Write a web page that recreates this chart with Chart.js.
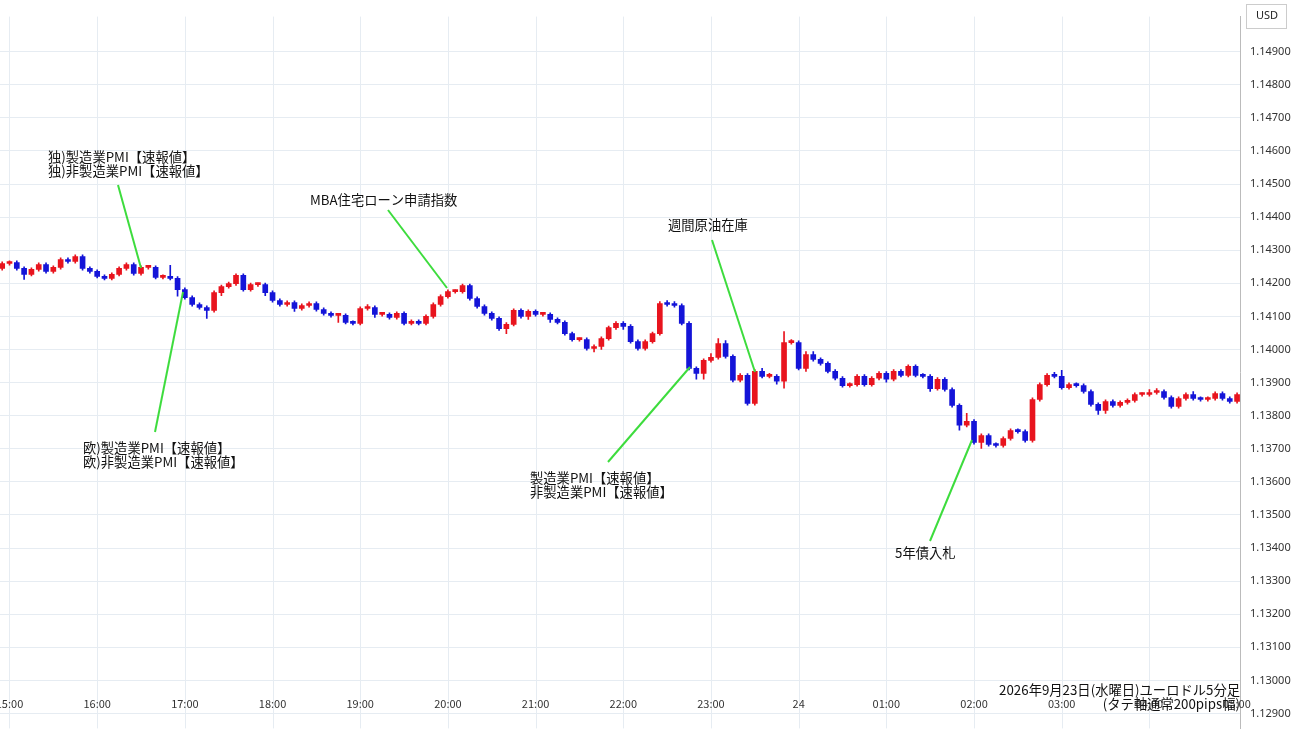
<!DOCTYPE html>
<html>
<head>
<meta charset="utf-8">
<script src="https://cdn.jsdelivr.net/npm/chart.js@4.4.1/dist/chart.umd.min.js"></script>
<style>
  html, body { margin: 0; padding: 0; background: #fff; }
  #wrap { width: 1300px; height: 745px; }
</style>
</head>
<body>
<div id="wrap"><canvas id="fx"></canvas></div>
<script>
// EUR/USD 5-minute closes, first bar 14:55, last bar 05:00
let closes = [
  1.14260, 1.14263, 1.14245, 1.14227, 1.14242, 1.14257, 1.14236, 1.14248, 1.14272, 1.14266,
  1.14281, 1.14245, 1.14236, 1.14221, 1.14215, 1.14227, 1.14245, 1.14257, 1.14230, 1.14248,
  1.14248, 1.14218, 1.14221, 1.14215, 1.14181, 1.14157, 1.14136, 1.14127, 1.14118, 1.14172,
  1.14190, 1.14199, 1.14224, 1.14181, 1.14196, 1.14196, 1.14172, 1.14148, 1.14136, 1.14142,
  1.14124, 1.14133, 1.14139, 1.14121, 1.14109, 1.14103, 1.14103, 1.14082, 1.14079, 1.14124,
  1.14127, 1.14106, 1.14106, 1.14097, 1.14109, 1.14079, 1.14085, 1.14079, 1.14100, 1.14136,
  1.14160, 1.14175, 1.14175, 1.14193, 1.14154, 1.14130, 1.14109, 1.14094, 1.14063, 1.14076,
  1.14118, 1.14100, 1.14115, 1.14106, 1.14106, 1.14091, 1.14082, 1.14048, 1.14030, 1.14030,
  1.14003, 1.14009, 1.14033, 1.14066, 1.14079, 1.14070, 1.14024, 1.14003, 1.14024, 1.14048,
  1.14139, 1.14136, 1.14133, 1.14079, 1.13943, 1.13928, 1.13967, 1.13976, 1.14018, 1.13979,
  1.13907, 1.13922, 1.13837, 1.13934, 1.13919, 1.13919, 1.13904, 1.14021, 1.14021, 1.13943,
  1.13985, 1.13970, 1.13958, 1.13934, 1.13913, 1.13891, 1.13894, 1.13919, 1.13894, 1.13913,
  1.13928, 1.13910, 1.13934, 1.13922, 1.13949, 1.13922, 1.13919, 1.13882, 1.13910, 1.13879,
  1.13831, 1.13771, 1.13783, 1.13719, 1.13740, 1.13713, 1.13710, 1.13731, 1.13755, 1.13752,
  1.13725, 1.13849, 1.13894, 1.13922, 1.13919, 1.13885, 1.13894, 1.13891, 1.13873, 1.13834,
  1.13816, 1.13843, 1.13831, 1.13840, 1.13846, 1.13864, 1.13864, 1.13870, 1.13873, 1.13855,
  1.13828, 1.13852, 1.13864, 1.13852, 1.13849, 1.13852, 1.13867, 1.13852, 1.13843, 1.13864
];
let firstOpen = 1.14245;

// wick lengths beyond the body, in 0.00001
let wickHi = [
  5, 5, 5, 5, 5, 5, 5, 5, 5, 5,
  5, 5, 5, 5, 5, 5, 5, 5, 5, 5,
  5, 5, 5, 33, 5, 5, 5, 5, 5, 5,
  5, 5, 5, 5, 5, 5, 5, 5, 5, 5,
  5, 5, 5, 5, 5, 5, 5, 5, 5, 5,
  9, 5, 5, 5, 5, 5, 5, 5, 5, 5,
  5, 5, 5, 5, 5, 5, 5, 5, 5, 5,
  5, 5, 5, 5, 5, 5, 5, 5, 5, 5,
  5, 5, 5, 5, 5, 5, 5, 5, 5, 5,
  6, 9, 9, 5, 5, 5, 5, 12, 15, 9,
  5, 5, 5, 5, 9, 9, 5, 33, 9, 5,
  9, 9, 5, 5, 5, 5, 5, 5, 5, 5,
  5, 5, 5, 5, 5, 5, 5, 5, 5, 5,
  5, 5, 24, 5, 5, 5, 5, 5, 5, 5,
  5, 5, 5, 5, 9, 18, 5, 5, 5, 5,
  5, 5, 5, 5, 5, 5, 5, 9, 9, 5,
  5, 5, 5, 9, 5, 5, 5, 5, 5, 5
];
let wickLo = [
  5, 5, 5, 15, 5, 5, 5, 5, 5, 5,
  5, 5, 5, 5, 5, 5, 5, 5, 5, 5,
  5, 5, 5, 5, 20, 5, 5, 5, 24, 5,
  9, 5, 5, 5, 5, 5, 9, 5, 5, 5,
  9, 5, 5, 5, 5, 5, 21, 5, 5, 5,
  5, 9, 5, 5, 5, 5, 5, 5, 5, 5,
  5, 5, 5, 5, 5, 5, 5, 5, 5, 15,
  5, 5, 9, 5, 5, 9, 5, 5, 5, 5,
  5, 10, 9, 5, 5, 9, 5, 5, 5, 5,
  5, 5, 5, 5, 5, 18, 18, 5, 5, 5,
  5, 5, 5, 5, 5, 5, 9, 21, 5, 5,
  9, 5, 5, 5, 5, 5, 5, 5, 5, 5,
  5, 9, 5, 5, 5, 5, 5, 9, 5, 5,
  5, 15, 5, 5, 18, 5, 5, 5, 5, 5,
  5, 5, 5, 5, 5, 5, 5, 5, 5, 5,
  12, 9, 5, 5, 5, 5, 5, 5, 5, 5,
  5, 5, 5, 5, 5, 5, 5, 5, 5, 5
];

let hourLabels = ['15:00','16:00','17:00','18:00','19:00','20:00','21:00','22:00','23:00','24','01:00','02:00','03:00','04:00','05:00'];
let priceTicks = [1.129,1.130,1.131,1.132,1.133,1.134,1.135,1.136,1.137,1.138,1.139,1.140,1.141,1.142,1.143,1.144,1.145,1.146,1.147,1.148,1.149];

let notes = [
  { x: 48,  y: 157, align: 'left', lines: ['独)製造業PMI【速報値】', '独)非製造業PMI【速報値】'], from: [118, 185], to: [141, 268] },
  { x: 310, y: 200, align: 'left', lines: ['MBA住宅ローン申請指数'], from: [388, 210], to: [447, 288] },
  { x: 668, y: 225, align: 'left', lines: ['週間原油在庫'], from: [712, 240], to: [755, 372] },
  { x: 83,  y: 448, align: 'left', lines: ['欧)製造業PMI【速報値】', '欧)非製造業PMI【速報値】'], from: [155, 432], to: [183, 292] },
  { x: 530, y: 478, align: 'left', lines: ['製造業PMI【速報値】', '非製造業PMI【速報値】'], from: [608, 462], to: [690, 367] },
  { x: 895, y: 553, align: 'left', lines: ['5年債入札'], from: [930, 541], to: [972, 440] },
  { x: 1240, y: 690, align: 'right', lines: ['2026年9月23日(水曜日)ユーロドル5分足', '(タテ軸通常200pips幅)'] }
];

const RED = '#e8141e', BLUE = '#1414d8', GRID = '#e6ecf2';
let bodies = [], wicks = [], colors = [];
let prev = firstOpen;
closes.forEach((c, i) => {
  let t = -5 + i * 5;
  let o = prev;
  let top = Math.max(o, c), bot = Math.min(o, c);
  bodies.push({ x: t, y: [bot, top] });
  wicks.push({ x: t, y: [bot - wickLo[i] / 1e5, top + wickHi[i] / 1e5] });
  colors.push(c >= o ? RED : BLUE);
  prev = c;
});

const notesPlugin = {
  id: 'notes',
  beforeDatasetsDraw(chart) {
    const g = chart.ctx, xs = chart.scales.x, a = chart.chartArea;
    g.save();
    g.strokeStyle = GRID;
    g.lineWidth = 1;
    hourLabels.slice(0, 14).forEach((lab, i) => {
      let px = Math.round(xs.getPixelForValue(i * 60)) + 0.5;
      g.beginPath();
      g.moveTo(px, a.top);
      g.lineTo(px, a.bottom);
      g.stroke();
    });
    g.restore();
  },
  afterDatasetsDraw(chart) {
    const g = chart.ctx;
    const xs = chart.scales.x;
    g.save();
    g.font = '11px "Noto Sans CJK JP", "Noto Sans", sans-serif';
    g.fillStyle = '#333';
    g.textAlign = 'center';
    g.textBaseline = 'middle';
    hourLabels.forEach((lab, i) => {
      g.fillText(lab, xs.getPixelForValue(i * 60), 704);
    });
    notes.forEach(n => {
      if (n.from) {
        g.strokeStyle = '#3ddc3d';
        g.lineWidth = 2;
        g.beginPath();
        g.moveTo(n.from[0], n.from[1]);
        g.lineTo(n.to[0], n.to[1]);
        g.stroke();
      }
      g.font = '13.3px "Noto Sans CJK JP", sans-serif';
      g.fillStyle = '#111';
      g.textAlign = n.align;
      n.lines.forEach((l, k) => g.fillText(l, n.x, n.y + k * 14));
    });
    g.font = '11px "Noto Sans", sans-serif';
    g.textAlign = 'left';
    g.fillStyle = '#222';
    g.fillText('USD', 1256, 16);
    g.strokeStyle = '#ccc';
    g.lineWidth = 1;
    g.strokeRect(1246.5, 4.5, 40, 24);
    g.restore();
  }
};

new Chart(document.getElementById('fx'), {
  type: 'bar',
  data: {
    datasets: [
      { data: wicks, backgroundColor: colors, barThickness: 1, grouped: false, order: 2 },
      { data: bodies, backgroundColor: colors, barThickness: 5, minBarLength: 2, grouped: false, order: 1 }
    ]
  },
  options: {
    responsive: true,
    maintainAspectRatio: false,
    animation: false,
    layout: { padding: 0 },
    plugins: { legend: { display: false }, tooltip: { enabled: false } },
    scales: {
      x: {
        type: 'linear',
        min: -6.5,
        max: 842,
        offset: false,
        ticks: { display: false, stepSize: 30 },
        grid: { display: false },
        border: { display: false }
      },
      y: {
        position: 'right',
        min: 1.12855,
        max: 1.15006,
        afterBuildTicks: s => { s.ticks = priceTicks.map(v => ({ value: v })); },
        afterFit: s => { s.width = 60; },
        ticks: {
          callback: v => v.toFixed(5),
          font: { size: 11, family: '"Noto Sans", sans-serif' },
          color: '#333',
          padding: 10
        },
        grid: { color: GRID, drawTicks: false },
        border: { color: '#bbb' }
      }
    }
  },
  plugins: [notesPlugin]
});
</script>
</body>
</html>
